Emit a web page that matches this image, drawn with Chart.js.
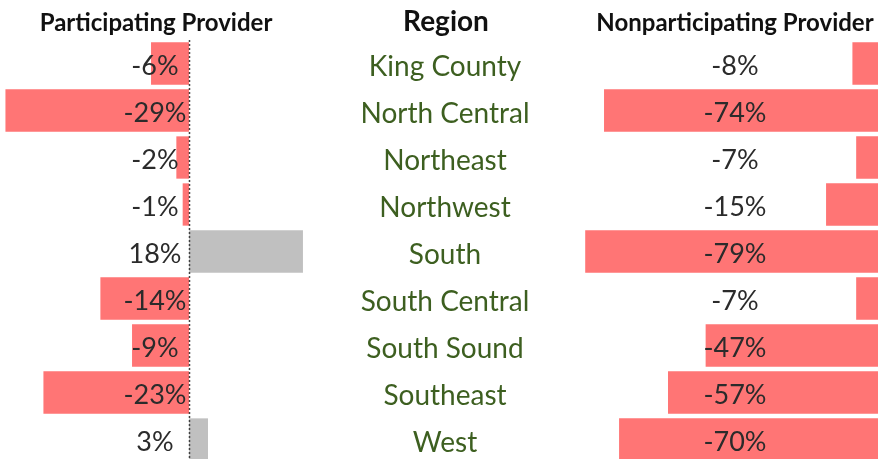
<!DOCTYPE html>
<html>
<head>
<meta charset="utf-8">
<script src="https://cdn.jsdelivr.net/npm/chart.js@4.4.1/dist/chart.umd.min.js"></script>
<style>
html,body{margin:0;padding:0;background:#fff;overflow:hidden;}
#wrap{position:relative;width:878px;height:463px;}
</style>
</head>
<body>
<div id="wrap"><canvas id="chart"></canvas></div>
<script>
const regions=['King County','North Central','Northeast','Northwest','South','South Central','South Sound','Southeast','West'];
const participating=[-6,-29,-2,-1,18,-14,-9,-23,3];
const nonparticipating=[-8,-74,-7,-15,-79,-7,-47,-57,-70];
const headers=['Participating Provider','Region','Nonparticipating Provider'];

const RED='#ff7575', GRAY='#c0c0c0', GREEN='#3d5f20', TXT='#2b2b2b';
const FONT='Lato';

const pct=v=>v+'%';

const labelsPlugin={
  id:'labels',
  afterDatasetsDraw(chart){
    const {ctx,chartArea,scales}=chart;
    const y=scales.y, xl=scales.x;
    // dotted zero line for left panel
    const x0=Math.round(xl.getPixelForValue(0))+0.5;
    ctx.save();
    ctx.strokeStyle='#404040';
    ctx.lineWidth=1.5;
    ctx.setLineDash([2,2]);
    ctx.beginPath();
    ctx.moveTo(x0,chartArea.top);
    ctx.lineTo(x0,chartArea.bottom);
    ctx.stroke();
    ctx.setLineDash([]);

    ctx.textBaseline='middle';
    ctx.textAlign='center';
    regions.forEach((r,i)=>{
      const cy=y.getPixelForValue(i)+3;
      ctx.font=`27px ${FONT}`;
      ctx.fillStyle=TXT;
      ctx.fillText(pct(participating[i]),155,cy);
      ctx.fillText(pct(nonparticipating[i]),735,cy);
      ctx.fillStyle=GREEN;
      ctx.font=`28px ${FONT}`;
      ctx.fillText(r,445,cy);
    });

    ctx.fillStyle='#111';
    ctx.font=`bold 24px ${FONT}`;
    ctx.fillText(headers[0],156,23);
    ctx.font=`bold 28px ${FONT}`;
    ctx.fillText(headers[1],446,22);
    ctx.font=`bold 24px ${FONT}`;
    ctx.fillText(headers[2],735,23);
    ctx.restore();
  }
};

new Chart(document.getElementById('chart'),{
  type:'bar',
  data:{
    labels:regions,
    datasets:[
      {
        label:headers[0],
        data:participating,
        xAxisID:'x',
        grouped:false,
        backgroundColor:participating.map(v=>v<0?RED:GRAY),
        categoryPercentage:1,
        barPercentage:0.9
      },
      {
        label:headers[2],
        data:nonparticipating,
        xAxisID:'x2',
        grouped:false,
        backgroundColor:RED,
        categoryPercentage:1,
        barPercentage:0.9
      }
    ]
  },
  options:{
    indexAxis:'y',
    responsive:true,
    maintainAspectRatio:false,
    animation:false,
    layout:{padding:{top:40,left:0,right:0,bottom:0}},
    plugins:{legend:{display:false},tooltip:{enabled:false}},
    scales:{
      y:{display:false},
      x:{display:false,min:-29.86,max:108.85},
      x2:{display:false,min:-234.5,max:-1.2}
    }
  },
  plugins:[labelsPlugin]
});
</script>
</body>
</html>
